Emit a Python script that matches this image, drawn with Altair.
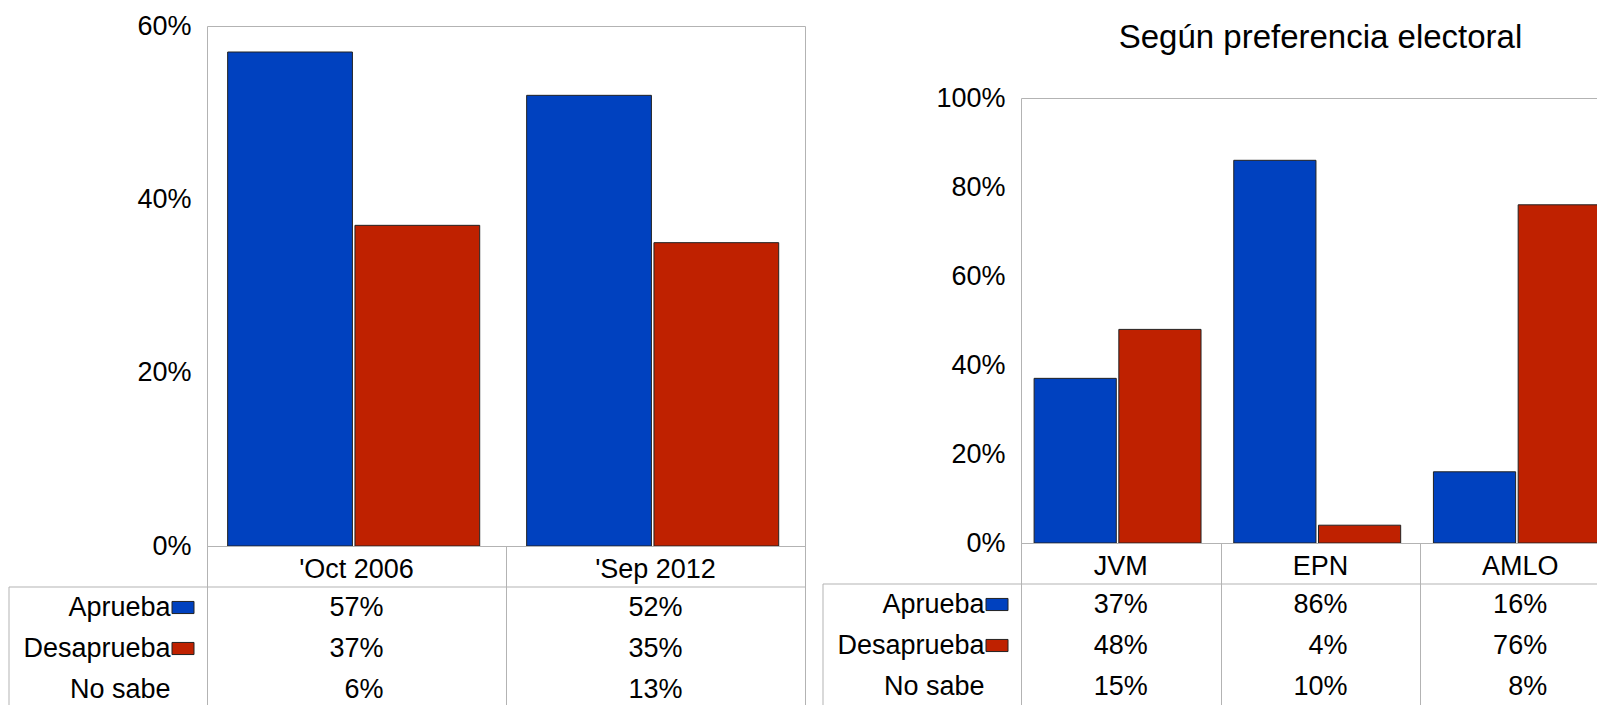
import altair as alt
import pandas as pd

# ---------------- data ----------------
series = ["Aprueba", "Desaprueba"]
series_colors = ["#0041BF", "#BF2100"]
row_names = ["hdr", "Aprueba", "Desaprueba", "No sabe"]

cats_left = ["'Oct 2006", "'Sep 2012"]
aprueba_left = [57, 52]
desaprueba_left = [37, 35]
nosabe_left = [6, 13]

cats_right = ["JVM", "EPN", "AMLO"]
aprueba_right = [37, 86, 16]
desaprueba_right = [48, 4, 76]
nosabe_right = [15, 10, 8]

yticks_left = [0, 0.2, 0.4, 0.6]
yticks_right = [0, 0.2, 0.4, 0.6, 0.8, 1.0]

title_right = "Según preferencia electoral"

# ---------------- style ----------------
FONT = "Liberation Sans"
GRAY = "#b3b3b3"
FS = 27
TABLE_H = 164
LABEL_COL = 198

color_enc = alt.Color("serie:N", scale=alt.Scale(domain=series, range=series_colors), legend=None)


def panel(cats, ap, de, ns, ymax, yvals, plot_w, plot_h, pad_inner, band_align, off_inner, title=None):
    n = len(cats)
    bars_df = pd.DataFrame({
        "cat": cats * 2,
        "serie": ["Aprueba"] * n + ["Desaprueba"] * n,
        "value": [v / 100 for v in ap] + [v / 100 for v in de],
    })
    bars = alt.Chart(bars_df).mark_bar(stroke="#222222", strokeWidth=1, y2Offset=-4).encode(
        x=alt.X("cat:N", sort=cats,
                scale=alt.Scale(domain=cats, paddingInner=pad_inner, paddingOuter=pad_inner / 2,
                                align=band_align),
                axis=None),
        xOffset=alt.XOffset("serie:N", sort=series,
                            scale=alt.Scale(domain=series, paddingInner=off_inner, paddingOuter=0)),
        y=alt.Y("value:Q", scale=alt.Scale(domain=[0, ymax], nice=False),
                axis=alt.Axis(values=yvals, format=".0%", title=None, ticks=False, domain=False,
                              grid=False, labelPadding=16, labelFontSize=FS, labelColor="#000",
                              labelFont=FONT)),
        color=color_enc,
    ).properties(width=plot_w, height=plot_h)

    vals_df = pd.DataFrame({
        "row": ["Aprueba"] * n + ["Desaprueba"] * n + ["No sabe"] * n,
        "cat": cats * 3,
        "txt": [f"{v}%" for v in list(ap) + list(de) + list(ns)],
    })
    hdr_df = pd.DataFrame({"row": ["hdr"] * n, "cat": cats})
    sw_df = pd.DataFrame({"row": series, "serie": series})
    line_df = pd.DataFrame({"row": ["Aprueba"]})

    xs = alt.Scale(domain=cats, paddingInner=0, paddingOuter=0)
    xa = alt.Axis(labels=False, ticks=False, domain=False, grid=True, tickBand="extent",
                  gridColor=GRAY, gridWidth=1, title=None)
    ys = alt.Scale(domain=row_names, paddingInner=0, paddingOuter=0)
    ya = alt.Axis(title=None, ticks=False, domain=False, grid=False, labelPadding=37,
                  labelFontSize=FS, labelColor="#000", labelFont=FONT,
                  labelExpr="datum.value == 'hdr' ? '' : datum.value")
    X = alt.X("cat:N", sort=cats, scale=xs, axis=xa)
    Y = alt.Y("row:N", sort=row_names, scale=ys, axis=ya)
    Ytop = alt.Y("row:N", sort=row_names, scale=ys, axis=ya, bandPosition=0)

    values = alt.Chart(vals_df).mark_text(align="right", dx=27, fontSize=FS, font=FONT,
                                          color="#000").encode(x=X, y=Y, text="txt:N")
    header = alt.Chart(hdr_df).mark_text(align="center", dy=3, fontSize=FS, font=FONT,
                                         color="#000").encode(x=X, y=Y, text="cat:N")
    swatch = alt.Chart(sw_df).mark_point(shape="M-1,-0.55L1,-0.55L1,0.55L-1,0.55Z", size=484,
                                         filled=True, opacity=1, stroke="#222222",
                                         strokeWidth=1).encode(
        x=alt.value(-24), y=Y, color=color_enc)
    hline = alt.Chart(line_df).mark_rule(color=GRAY, strokeWidth=1).encode(
        y=Ytop, x=alt.value(-LABEL_COL), x2=alt.value(plot_w))
    vline = alt.Chart(line_df).mark_rule(color=GRAY, strokeWidth=1).encode(
        y=Ytop, y2=alt.value(TABLE_H), x=alt.value(-LABEL_COL))

    table = alt.layer(hline, vline, header, values, swatch).properties(width=plot_w, height=TABLE_H)

    parts = []
    if title:
        title_df = pd.DataFrame({"t": [title]})
        spacer = alt.Chart(title_df).mark_text(fontSize=33, font=FONT, color="#000", dy=-24).encode(
            text="t:N").properties(width=plot_w, height=72,
                                   view=alt.ViewBackground(stroke="transparent"))
        parts.append(spacer)
    parts += [bars, table]
    return alt.vconcat(*parts, spacing=0, bounds="flush")


left = panel(cats_left, aprueba_left, desaprueba_left, nosabe_left, 0.6, yticks_left,
             598, 520, 0.157, 0.44, 0.02)
right = panel(cats_right, aprueba_right, desaprueba_right, nosabe_right, 1.0, yticks_right,
              599, 445, 0.164, 0.40, 0.03, title=title_right)

chart = alt.hconcat(left, right, spacing=16).resolve_scale(
    xOffset="independent"
).properties(
    autosize=alt.AutoSizeParams(type="none"),
    padding={"left": 199, "top": 18, "right": 1390, "bottom": 679},
).configure(font=FONT).configure_view(stroke=GRAY, strokeWidth=1)

chart.save("out.html", embed_options={"renderer": "svg", "actions": False})
